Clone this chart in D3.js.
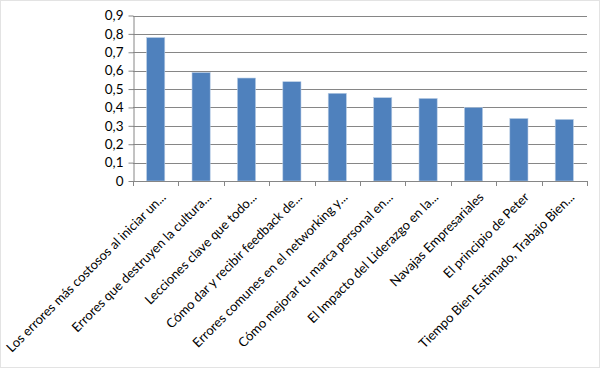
<!DOCTYPE html>
<html><head><meta charset="utf-8">
<script src="https://cdn.jsdelivr.net/npm/d3@7/dist/d3.min.js"></script>
<style>body{margin:0;background:#fff}svg{display:block}text{font-family:Lato,"Open Sans",sans-serif;fill:#000}</style>
</head><body>
<svg id="c" width="600" height="368"></svg>
<script>
const categories = [
  "Los errores más costosos al iniciar un...",
  "Errores que destruyen la cultura...",
  "Lecciones clave que todo...",
  "Cómo dar y recibir feedback de...",
  "Errores comunes en el networking y...",
  "Cómo mejorar tu marca personal en...",
  "El Impacto del Liderazgo en la...",
  "Navajas Empresariales",
  "El principio de Peter",
  "Tiempo Bien Estimado, Trabajo Bien..."
];
const values = [0.78, 0.59, 0.56, 0.54, 0.477, 0.453, 0.449, 0.40, 0.34, 0.335];
const yTicks = [0, 0.1, 0.2, 0.3, 0.4, 0.5, 0.6, 0.7, 0.8, 0.9];

const svg = d3.select("#c");
const m = {left:133, right:587, top:15.5, bottom:181};
const x = d3.scaleBand().domain(categories).range([m.left, m.right]).paddingInner(0.6).paddingOuter(0.3);
const y = d3.scaleLinear().domain([0, 0.9]).range([m.bottom, m.top]);

// frame
svg.append("rect").attr("x",0.5).attr("y",0.5).attr("width",599).attr("height",367)
  .attr("fill","none").attr("stroke","#e3e3e3");

// gridlines
svg.append("g").selectAll("line").data(yTicks.filter(d=>d>0)).join("line")
  .attr("x1",m.left).attr("x2",m.right).attr("y1",d=>Math.round(y(d))+0.5).attr("y2",d=>Math.round(y(d))+0.5)
  .attr("stroke","#868686").attr("stroke-width",1);

// bars
svg.append("g").selectAll("rect").data(values).join("rect")
  .attr("x",(d,i)=>x(categories[i])).attr("width",x.bandwidth())
  .attr("y",d=>y(d)).attr("height",d=>y(0)-y(d))
  .attr("fill","#4f81bd").attr("stroke","#b9cde5").attr("stroke-width",0.6);

// y axis
const ya = d3.axisLeft(y).tickValues(yTicks).tickSize(5)
  .tickFormat(d=>d===0?"0":d3.format(".1f")(d).replace(".",",")).tickSizeOuter(0);
const gy = svg.append("g").attr("transform",`translate(${m.left+0.5},0)`).call(ya);
gy.select(".domain").attr("stroke","#868686");
gy.selectAll(".tick line").attr("stroke","#868686");
gy.selectAll(".tick text").attr("font-size",13.5).attr("x",-10).attr("fill","#000");

// x axis
const boundaries = d3.range(categories.length+1).map(i=>m.left + i*(m.right-m.left)/categories.length);
svg.append("line").attr("x1",m.left).attr("x2",m.right).attr("y1",m.bottom+0.5).attr("y2",m.bottom+0.5).attr("stroke","#868686");
svg.append("g").selectAll("line").data(boundaries).join("line")
  .attr("x1",d=>Math.round(d)+0.5).attr("x2",d=>Math.round(d)+0.5).attr("y1",m.bottom).attr("y2",m.bottom+5)
  .attr("stroke","#868686");

svg.append("g").selectAll("text").data(categories).join("text")
  .attr("transform",d=>`translate(${x(d)+x.bandwidth()/2+11},${m.bottom+17}) rotate(-45)`)
  .attr("text-anchor","end").attr("font-size",13).text(d=>d);
</script>
</body></html>
